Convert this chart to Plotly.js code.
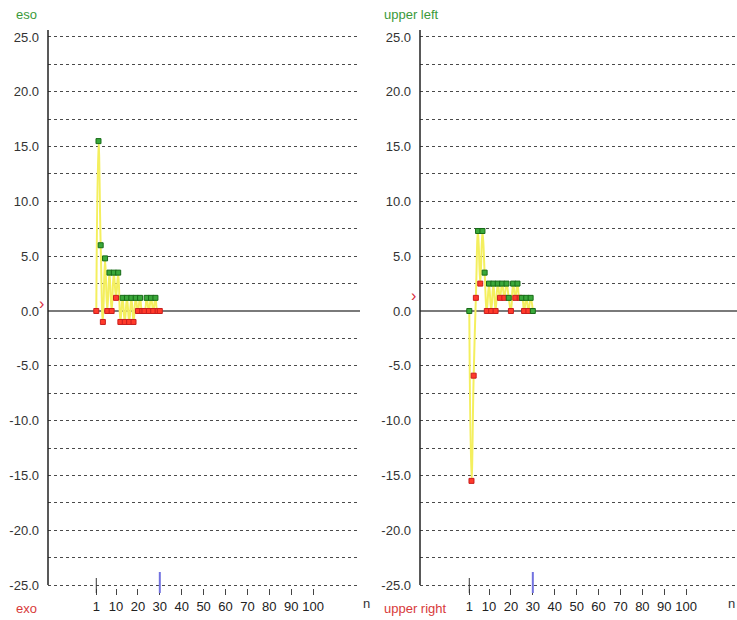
<!DOCTYPE html>
<html>
<head>
<meta charset="utf-8">
<script src="https://cdn.plot.ly/plotly-3.0.1.min.js"></script>
<style>
  html, body { margin: 0; padding: 0; background: #ffffff; }
  #chart { width: 737px; height: 620px; }
</style>
</head>
<body>
<div id="chart"></div>
<script>
// Step index of each trial (n)
const leftN = [1,2,3,4,5,6,7,8,9,10,11,12,13,14,15,16,17,18,19,20,21,22,23,24,25,26,27,28,29,30];
// Deviation measured at each trial, eso / exo panel
const leftValues = [0, 15.5, 6.0, -1.0, 4.8, 0, 3.5, 0, 3.5, 1.2,
                    3.5, -1.0, 1.2, -1.0, 1.2, -1.0, 1.2, -1.0, 1.2, 0,
                    1.2, 0, 0, 1.2, 0, 1.2, 0, 1.2, 0, 0];
// Response side of each trial: g = eso side, r = exo side
const leftSide = ['r','g','g','r','g','r','g','r','g','r',
                  'g','r','g','r','g','r','g','r','g','r',
                  'g','r','r','g','r','g','r','g','r','r'];

const rightN = [1,2,3,4,5,6,7,8,9,10,11,12,13,14,15,16,17,18,19,20,21,22,23,24,25,26,27,28,29,30];
// Deviation measured at each trial, upper left / upper right panel
const rightValues = [0, -15.5, -5.9, 1.2, 7.3, 2.5, 7.3, 3.5, 0, 2.5,
                     0, 2.5, 0, 2.5, 1.2, 2.5, 1.2, 2.5, 1.2, 0,
                     2.5, 1.2, 2.5, 1.2, 1.2, 0, 1.2, 0, 1.2, 0];
const rightSide = ['g','r','r','r','g','r','g','g','r','g',
                   'r','g','r','g','r','g','r','g','g','r',
                   'g','r','g','r','g','r','g','r','g','g'];

// Axis ticks
const xTickVals = [1,10,20,30,40,50,60,70,80,90,100];
const xTickText = ['1','10','20','30','40','50','60','70','80','90','100'];
const yTickVals = [25,20,15,10,5,0,-5,-10,-15,-20,-25];
const yTickText = yTickVals.map(v => v.toFixed(1));

// Current-estimate pointer shown next to each vertical axis
const leftPointer = 0.7;
const rightPointer = 1.4;

const W = 737, H = 620;
const px = v => v / W;            // pixel x -> paper
const py = v => (H - v) / H;      // pixel y -> paper

const FILL = { g: '#3aa83a', r: '#ff3a2a' };
const EDGE = { g: '#176b17', r: '#c81e1e' };
const FONT = 'Liberation Sans, Arial, sans-serif';

function series(xs, ys, side, xa, ya) {
  return [
    {
      x: xs, y: ys, xaxis: xa, yaxis: ya, type: 'scatter', mode: 'lines',
      line: { color: '#f4ef5e', width: 2, shape: 'spline', smoothing: 1.3 },
      hoverinfo: 'skip', showlegend: false
    },
    {
      x: xs, y: ys, xaxis: xa, yaxis: ya, type: 'scatter', mode: 'markers',
      marker: {
        symbol: 'square', size: 5,
        color: side.map(s => FILL[s]),
        line: { color: side.map(s => EDGE[s]), width: 1 }
      },
      showlegend: false
    }
  ];
}

const data = [
  ...series(leftN, leftValues, leftSide, 'x', 'y'),
  ...series(rightN, rightValues, rightSide, 'x2', 'y2')
];

// 10.96 px per unit; range padded by 0.3 so the +/-25 grid lines are kept
function yAxis(anchor) {
  return {
    anchor: anchor,
    domain: [py(588.3), py(33.7)],
    range: [-25.3, 25.3],
    tickvals: yTickVals,
    ticktext: yTickText,
    ticks: '',
    ticklabelstandoff: 8,
    tickfont: { family: FONT, size: 13, color: '#333333' },
    showgrid: true,
    gridcolor: '#4a4a4a',
    gridwidth: 1,
    griddash: '3px,3px',
    minor: { dtick: 2.5, tick0: 0, showgrid: true, gridcolor: '#4a4a4a', gridwidth: 1, griddash: '3px,3px' },
    zeroline: true,
    zerolinecolor: '#7a7a7a',
    zerolinewidth: 2,
    showline: false,
    fixedrange: true
  };
}

function xAxis(anchor, domain, range) {
  return {
    anchor: anchor,
    domain: domain,
    range: range,
    tickvals: xTickVals,
    ticktext: xTickText,
    ticks: 'outside',
    ticklen: 6,
    tickwidth: 1,
    tickcolor: '#444444',
    tickfont: { family: FONT, size: 13, color: '#222222' },
    showgrid: false,
    zeroline: false,
    showline: false,
    fixedrange: true
  };
}

const lastLeft = leftN[leftN.length - 1];
const lastRight = rightN[rightN.length - 1];

const shapes = [
  // vertical axis lines
  { type: 'line', xref: 'paper', yref: 'paper', x0: px(48), x1: px(48), y0: py(30), y1: py(585),
    line: { color: '#222222', width: 1.5 } },
  { type: 'line', xref: 'paper', yref: 'paper', x0: px(420), x1: px(420), y0: py(30), y1: py(585),
    line: { color: '#222222', width: 1.5 } },
  // first-trial cross tick
  { type: 'line', xref: 'x', yref: 'paper', x0: 1, x1: 1, y0: py(578), y1: py(593),
    line: { color: '#333333', width: 1 } },
  { type: 'line', xref: 'x2', yref: 'paper', x0: 1, x1: 1, y0: py(578), y1: py(593),
    line: { color: '#333333', width: 1 } },
  // current trial count marker
  { type: 'line', xref: 'x', yref: 'paper', x0: lastLeft, x1: lastLeft, y0: py(572), y1: py(593),
    line: { color: '#7272e0', width: 2 } },
  { type: 'line', xref: 'x2', yref: 'paper', x0: lastRight, x1: lastRight, y0: py(572), y1: py(593),
    line: { color: '#7272e0', width: 2 } }
];

const GREEN = '#3a9a3a';
const RED = '#d83a3a';
function label(text, x, y, color, anchor) {
  return { text: text, xref: 'paper', yref: 'paper', x: px(x), y: py(y),
           xanchor: anchor || 'left', yanchor: 'middle', showarrow: false,
           font: { family: FONT, size: 13, color: color } };
}

const annotations = [
  label('eso', 14, 14, GREEN),
  label('exo', 14, 608, RED),
  label('upper left', 382, 14, GREEN),
  label('upper right', 382, 608, RED),
  label('n', 361, 603, '#333333'),
  label('n', 726, 603, '#333333'),
  { text: '›', xref: 'paper', yref: 'y', x: px(46), y: leftPointer, xanchor: 'right', yanchor: 'middle',
    showarrow: false, font: { family: FONT, size: 16, color: '#d82a3a' } },
  { text: '›', xref: 'paper', yref: 'y2', x: px(418), y: rightPointer, xanchor: 'right', yanchor: 'middle',
    showarrow: false, font: { family: FONT, size: 16, color: '#d82a3a' } }
];

const layout = {
  width: W,
  height: H,
  margin: { l: 0, r: 0, t: 0, b: 0, pad: 0, autoexpand: false },
  paper_bgcolor: '#ffffff',
  plot_bgcolor: '#ffffff',
  showlegend: false,
  xaxis: xAxis('y', [px(48), px(360)], [-21.05, 121.4]),
  yaxis: yAxis('x'),
  xaxis2: xAxis('y2', [px(420), 1], [-21.5, 123.2]),
  yaxis2: yAxis('x2'),
  shapes: shapes,
  annotations: annotations
};

Plotly.newPlot('chart', data, layout, { displayModeBar: false, staticPlot: true });
</script>
</body>
</html>
